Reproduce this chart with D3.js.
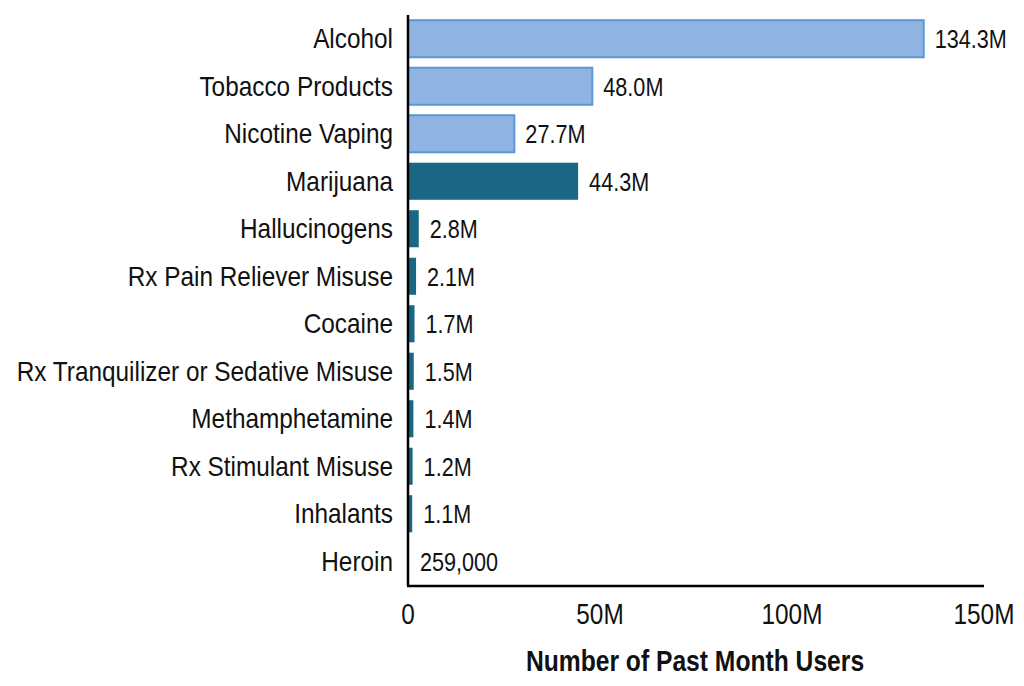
<!DOCTYPE html>
<html><head><meta charset="utf-8">
<script src="https://cdn.jsdelivr.net/npm/d3@7"></script>
<style>
body{margin:0;background:#fff;}
text{font-family:"Liberation Sans",Arial,sans-serif;fill:#111;}
</style></head><body>
<svg id="c" width="1024" height="686"></svg>
<script>
const categories = ["Alcohol","Tobacco Products","Nicotine Vaping","Marijuana","Hallucinogens","Rx Pain Reliever Misuse","Cocaine","Rx Tranquilizer or Sedative Misuse","Methamphetamine","Rx Stimulant Misuse","Inhalants","Heroin"];
const values = [134.3,48.0,27.7,44.3,2.8,2.1,1.7,1.5,1.4,1.2,1.1,0.259];
const valueLabels = ["134.3M","48.0M","27.7M","44.3M","2.8M","2.1M","1.7M","1.5M","1.4M","1.2M","1.1M","259,000"];
const groups = ["legal","legal","legal","illicit","illicit","illicit","illicit","illicit","illicit","illicit","illicit","illicit"];
const tickValues = [0,50,100,150];
const tickLabels = ["0","50M","100M","150M"];
const axisTitle = "Number of Past Month Users";

const SX = 0.865; // condensed look
const svg = d3.select("#c");
const x0 = 408, x1 = 984, yTop = 15, yBot = 586;
const x = d3.scaleLinear().domain([0,150]).range([x0,x1]);
const y = d3.scaleBand().domain(categories).range([yTop, yBot-1]).paddingInner(0.22).paddingOuter(0.11);

const data = categories.map((c,i)=>({c,v:values[i],l:valueLabels[i],g:groups[i]}));

svg.selectAll("rect.bar").data(data).enter().append("rect")
  .attr("class","bar")
  .attr("x", x(0))
  .attr("y", d=>y(d.c))
  .attr("width", d=>Math.max(0,x(d.v)-x(0)))
  .attr("height", y.bandwidth())
  .attr("fill", d=>d.g==="legal"?"#8fb4e1":"#1b6783")
  .attr("stroke", d=>d.g==="legal"?"#5b97d6":"none")
  .attr("stroke-width", 2);

svg.selectAll("text.val").data(data).enter().append("text")
  .attr("class","val")
  .attr("transform", d=>`translate(${x(d.v)+11},${y(d.c)+y.bandwidth()/2}) scale(${SX},1)`)
  .attr("dy","0.37em")
  .attr("font-size",25)
  .text(d=>d.l);

svg.selectAll("text.cat").data(data).enter().append("text")
  .attr("class","cat")
  .attr("transform", d=>`translate(${x0-15},${y(d.c)+y.bandwidth()/2}) scale(0.87,1)`)
  .attr("dy","0.34em")
  .attr("text-anchor","end")
  .attr("font-size",28)
  .text(d=>d.c);

// axes lines
svg.append("line").attr("x1",x0).attr("x2",x0).attr("y1",yTop).attr("y2",yBot).attr("stroke","#000").attr("stroke-width",2.5);
svg.append("line").attr("x1",x0-1).attr("x2",x1).attr("y1",yBot).attr("y2",yBot).attr("stroke","#000").attr("stroke-width",2.5);

svg.selectAll("text.tick").data(tickValues).enter().append("text")
  .attr("class","tick")
  .attr("transform", d=>`translate(${x(d)},624) scale(0.84,1)`)
  .attr("text-anchor","middle")
  .attr("font-size",29)
  .text((d,i)=>tickLabels[i]);

svg.append("text")
  .attr("transform", `translate(${(x0+x1)/2-1},671) scale(0.85,1)`)
  .attr("text-anchor","middle")
  .attr("font-size",29).attr("font-weight","bold").text(axisTitle);
</script>
</body></html>
